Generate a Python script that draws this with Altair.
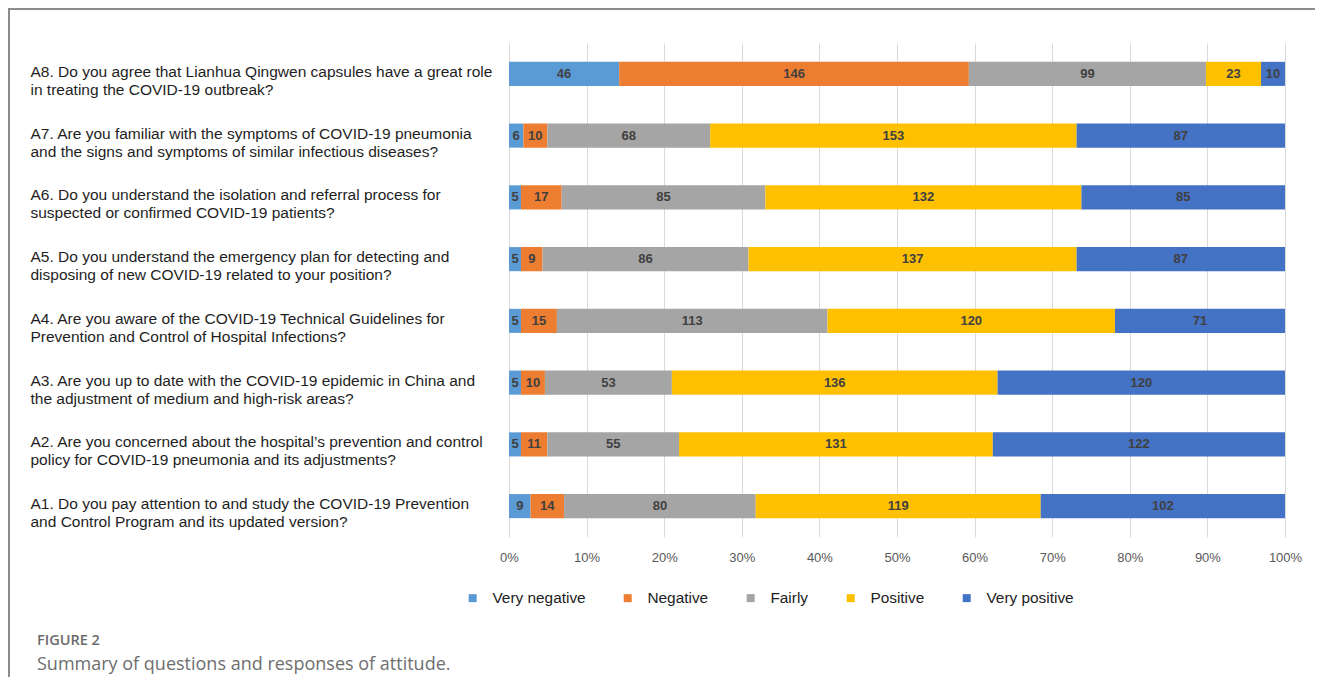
import altair as alt
import pandas as pd

questions = [
    "A8. Do you agree that Lianhua Qingwen capsules have a great role|in treating the COVID-19 outbreak?",
    "A7. Are you familiar with the symptoms of COVID-19 pneumonia|and the signs and symptoms of similar infectious diseases?",
    "A6. Do you understand the isolation and referral process for|suspected or confirmed COVID-19 patients?",
    "A5. Do you understand the emergency plan for detecting and|disposing of new COVID-19 related to your position?",
    "A4. Are you aware of the COVID-19 Technical Guidelines for|Prevention and Control of Hospital Infections?",
    "A3. Are you up to date with the COVID-19 epidemic in China and|the adjustment of medium and high-risk areas?",
    "A2. Are you concerned about the hospital\u2019s prevention and control|policy for COVID-19 pneumonia and its adjustments?",
    "A1. Do you pay attention to and study the COVID-19 Prevention|and Control Program and its updated version?",
]
categories = ["Very negative", "Negative", "Fairly", "Positive", "Very positive"]
colors = ["#5B9BD5", "#ED7D31", "#A5A5A5", "#FFC000", "#4472C4"]

very_negative = [46, 6, 5, 5, 5, 5, 5, 9]
negative = [146, 10, 17, 9, 15, 10, 11, 14]
fairly = [99, 68, 85, 86, 113, 53, 55, 80]
positive = [23, 153, 132, 137, 120, 136, 131, 119]
very_positive = [10, 87, 85, 87, 71, 120, 122, 102]

x_ticks = [0, 0.1, 0.2, 0.3, 0.4, 0.5, 0.6, 0.7, 0.8, 0.9, 1.0]
fig_label = "FIGURE 2"
caption = "Summary of questions and responses of attitude."

series = [very_negative, negative, fairly, positive, very_positive]
rows = []
for qi, q in enumerate(questions):
    for ci, cat in enumerate(categories):
        rows.append({"question": q, "category": cat, "order": ci, "count": series[ci][qi]})
df = pd.DataFrame(rows)

FONT = "Liberation Sans"

base = alt.Chart(df).transform_stack(
    stack="count",
    groupby=["question"],
    sort=[alt.SortField("order")],
    as_=["x0", "x1"],
    offset="normalize",
).transform_calculate(xm="(datum.x0 + datum.x1) / 2")

y_enc = alt.Y(
    "question:N",
    sort=questions,
    scale=alt.Scale(paddingInner=0.61, paddingOuter=0.305),
    axis=alt.Axis(
        title=None, domain=False, ticks=False, labelAlign="left",
        labelBaseline="middle", labelPadding=479, labelLimit=520,
        labelFont=FONT, labelFontSize=15.5, labelColor="#1e1e1e",
        labelLineHeight=18, labelOffset=-2,
        labelExpr="split(datum.label, '|')",
    ),
)

bars = base.mark_bar().encode(
    y=y_enc,
    x=alt.X(
        "x0:Q",
        scale=alt.Scale(domain=[0, 1], nice=False),
        axis=alt.Axis(
            values=x_ticks, format=".0%", title=None, grid=True,
            gridColor="#D9D9D9", gridWidth=1, domain=False, ticks=False,
            labelFont=FONT, labelFontSize=13, labelColor="#595959",
            labelPadding=14, labelFlush=False,
        ),
    ),
    x2="x1:Q",
    color=alt.Color(
        "category:N",
        scale=alt.Scale(domain=categories, range=colors),
        legend=alt.Legend(
            orient="none", legendX=-44, legendY=547, direction="horizontal",
            title=None, symbolType="square", symbolSize=64,
            symbolStrokeWidth=0, labelFont=FONT, labelFontSize=15.4,
            labelColor="#222222", labelOffset=12, columnPadding=34, padding=0,
        ),
    ),
    order=alt.Order("order:Q"),
)

labels = base.mark_text(
    font=FONT, fontSize=13, fontWeight="bold", color="#404040"
).encode(
    y=alt.Y("question:N", sort=questions),
    x="xm:Q",
    text="count:Q",
)

frame_df = pd.DataFrame({"k": [0]})
top_rule = alt.Chart(frame_df).mark_rule(color="#8c8c8c", strokeWidth=2).encode(
    x=alt.value(-501), x2=alt.value(806), y=alt.value(-34)
)
left_rule = alt.Chart(frame_df).mark_rule(color="#8c8c8c", strokeWidth=2).encode(
    x=alt.value(-500), y=alt.value(-35), y2=alt.value(634)
)

fig_text = alt.Chart(pd.DataFrame({"t": [fig_label]})).mark_text(
    align="left", baseline="alphabetic", font="Open Sans", fontSize=14.5,
    fontWeight=600, color="#6b6b6b"
).encode(x=alt.value(-472), y=alt.value(602), text="t:N")

cap_text = alt.Chart(pd.DataFrame({"t": [caption]})).mark_text(
    align="left", baseline="alphabetic", font="Open Sans", fontSize=18,
    color="#6e6e6e"
).encode(x=alt.value(-472), y=alt.value(627), text="t:N")

chart = alt.layer(bars, labels, top_rule, left_rule, fig_text, cap_text).properties(
    width=776,
    height=494,
    padding={"left": 501, "top": 35, "right": 30, "bottom": 140},
    autosize=alt.AutoSizeParams(type="none"),
).configure_view(stroke=None)

chart.save("out.html", embed_options={"renderer": "svg", "actions": False})
